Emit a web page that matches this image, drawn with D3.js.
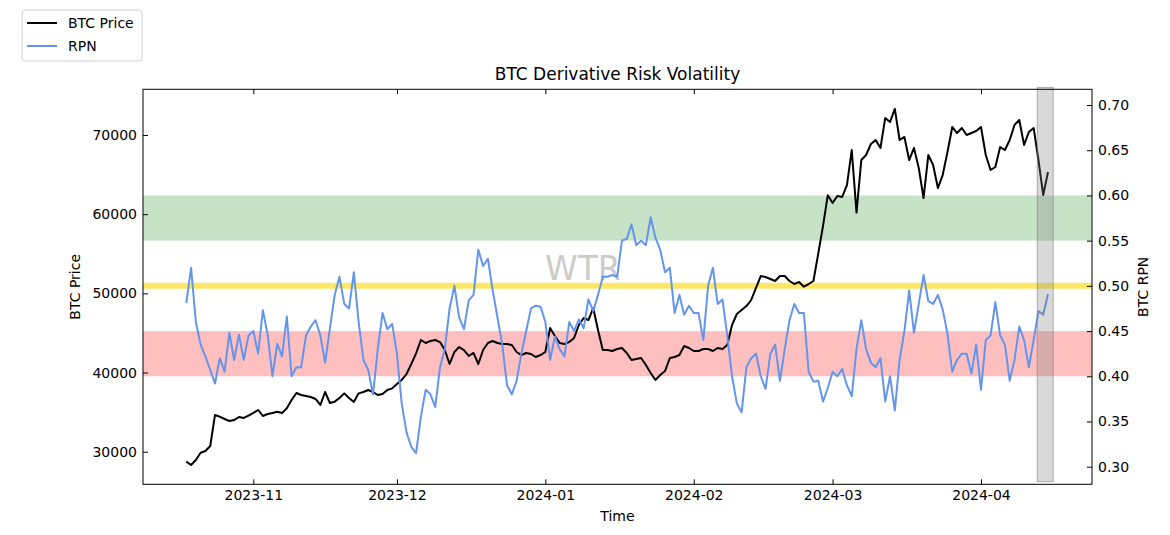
<!DOCTYPE html>
<html>
<head>
<meta charset="utf-8">
<script src="https://cdn.jsdelivr.net/npm/d3@7"></script>
<style>
  body { margin: 0; background: #fff; }
  svg { font-family: "DejaVu Sans", sans-serif; }
</style>
</head>
<body>
<svg width="1170" height="535"></svg>
<script>
// daily samples, 2023-10-18 .. 2024-04-15
const firstDay = '2023-10-18';
const dayAfterLast = '2024-04-16';

const btcPrice = [
  28740, 28320, 28950, 29870, 30090, 30720, 34640, 34420, 34130, 33880,
  34000, 34380, 34260, 34570, 34890, 35270, 34510, 34760, 34890, 35050,
  34890, 35480, 36530, 37410, 37160, 37030, 36910, 36660, 35900, 37540,
  36150, 36320, 36780, 37370, 36780, 36280, 37370, 37540, 37790, 37540,
  37160, 37290, 37790, 38000, 38550, 39060, 39810, 41080, 42430, 44110,
  43730, 43980, 44110, 43850, 42840, 41080, 42590, 43220, 42840, 42090,
  42470, 41080, 42840, 43730, 43980, 43730, 43600, 43600, 43480, 42590,
  42210, 42470, 42340, 41960, 42210, 42590, 45620, 44610, 43730, 43600,
  43850, 44360, 46000, 46890, 46630, 48150, 45370, 42840, 42840, 42720,
  42970, 43100, 42470, 41580, 41710, 41840, 40950, 39940, 39060, 39690,
  40190, 41830, 41960, 42210, 43350, 43100, 42720, 42720, 42970, 42970,
  42720, 43100, 42970, 43480, 46000, 47390, 47900, 48400, 49160, 50680,
  52190, 52070, 51810, 51560, 52190, 52190, 51560, 51180, 51430, 50840,
  51180, 51560, 55000, 58500, 62400, 61410, 62290, 62170, 63680, 68100,
  60200, 66840, 67470, 68860, 69370, 68360, 72150, 71640, 73290, 69370,
  69750, 66840, 68360, 65830, 62040, 67470, 66210, 63300, 64940, 67850,
  71010, 70250, 70880, 70000, 70250, 70500, 71010, 67470, 65580, 65960,
  68480, 68100, 69370, 71270, 71900, 68740, 70380, 70880, 66840, 62420, 65330
];

const rpn = [
  0.481, 0.520, 0.460, 0.435, 0.422, 0.407, 0.392, 0.420, 0.405, 0.448,
  0.418, 0.446, 0.418, 0.445, 0.450, 0.425, 0.473, 0.446, 0.400, 0.436,
  0.422, 0.466, 0.400, 0.410, 0.410, 0.445, 0.455, 0.462, 0.445, 0.415,
  0.453, 0.490, 0.510, 0.480, 0.475, 0.515, 0.460, 0.418, 0.407, 0.380,
  0.430, 0.470, 0.452, 0.458, 0.425, 0.370, 0.338, 0.322, 0.315, 0.355,
  0.385, 0.380, 0.366, 0.410, 0.430, 0.475, 0.500, 0.465, 0.452, 0.484,
  0.490, 0.540, 0.522, 0.530, 0.495, 0.465, 0.435, 0.390, 0.380, 0.395,
  0.425, 0.450, 0.475, 0.478, 0.477, 0.460, 0.418, 0.444, 0.430, 0.422,
  0.460, 0.450, 0.463, 0.453, 0.485, 0.472, 0.490, 0.510, 0.510, 0.512,
  0.510, 0.550, 0.552, 0.568, 0.545, 0.550, 0.545, 0.576, 0.553, 0.540,
  0.515, 0.520, 0.470, 0.490, 0.468, 0.478, 0.470, 0.470, 0.440, 0.500,
  0.520, 0.480, 0.485, 0.445, 0.400, 0.370, 0.360, 0.410, 0.420, 0.425,
  0.400, 0.386, 0.425, 0.435, 0.395, 0.430, 0.462, 0.480, 0.470, 0.470,
  0.405, 0.394, 0.395, 0.372, 0.387, 0.405, 0.400, 0.408, 0.390, 0.378,
  0.430, 0.462, 0.430, 0.415, 0.410, 0.420, 0.372, 0.400, 0.362, 0.418,
  0.450, 0.495, 0.448, 0.480, 0.512, 0.483, 0.480, 0.490, 0.474, 0.447,
  0.405, 0.418, 0.425, 0.425, 0.403, 0.435, 0.385, 0.440, 0.445, 0.482,
  0.445, 0.435, 0.395, 0.418, 0.455, 0.440, 0.410, 0.440, 0.472, 0.468, 0.491
];

const timeLimits = ['2023-10-08T23:00', '2024-04-24T04:30'];
const priceLimits = [25884, 75770];
const rpnLimits = [0.2805, 0.7174];
const priceTicks = [30000, 40000, 50000, 60000, 70000];
const rpnTicks = [0.30, 0.35, 0.40, 0.45, 0.50, 0.55, 0.60, 0.65, 0.70];

const greenZone = [0.55, 0.60];
const redZone = [0.40, 0.45];
const midLevel = 0.50;
const recentWindow = ['2024-04-12T18:00', '2024-04-16T02:00'];
const recentSpan = [0.2835, 0.7195];

// layout
const plotLeft = 143, plotRight = 1092, plotTop = 89.3, plotBottom = 484.3;

const parseDay = d3.utcParse('%Y-%m-%d');
const parseTime = d3.utcParse('%Y-%m-%dT%H:%M');
const days = d3.utcDay.range(parseDay(firstDay), parseDay(dayAfterLast));

const svg = d3.select('svg');

const x = d3.scaleUtc().domain(timeLimits.map(parseTime)).range([plotLeft, plotRight]);
const yPrice = d3.scaleLinear().domain(priceLimits).range([plotBottom, plotTop]);
const yRpn = d3.scaleLinear().domain(rpnLimits).range([plotBottom, plotTop]);

svg.append('defs').append('clipPath').attr('id', 'plot')
  .append('rect')
  .attr('x', plotLeft).attr('y', plotTop)
  .attr('width', plotRight - plotLeft).attr('height', plotBottom - plotTop);

const plot = svg.append('g').attr('clip-path', 'url(#plot)');

// zones on the RPN axis
plot.append('rect')
  .attr('x', plotLeft).attr('width', plotRight - plotLeft)
  .attr('y', yRpn(greenZone[1])).attr('height', yRpn(greenZone[0]) - yRpn(greenZone[1]))
  .attr('fill', 'green').attr('fill-opacity', 0.22);

plot.append('rect')
  .attr('x', plotLeft).attr('width', plotRight - plotLeft)
  .attr('y', yRpn(redZone[1])).attr('height', yRpn(redZone[0]) - yRpn(redZone[1]))
  .attr('fill', 'red').attr('fill-opacity', 0.25);

plot.append('line')
  .attr('x1', plotLeft).attr('x2', plotRight)
  .attr('y1', yRpn(midLevel)).attr('y2', yRpn(midLevel))
  .attr('stroke', 'gold').attr('stroke-opacity', 0.6).attr('stroke-width', 6);

// watermark
plot.append('text')
  .attr('x', 545).attr('y', 280)
  .attr('font-size', 33)
  .attr('fill', '#bdbdbd').attr('fill-opacity', 0.8)
  .text('WTR');

const priceLine = d3.line()
  .x((d, i) => x(days[i]))
  .y(d => yPrice(d));

const rpnLine = d3.line()
  .x((d, i) => x(days[i]))
  .y(d => yRpn(d));

plot.append('path')
  .datum(btcPrice)
  .attr('d', priceLine)
  .attr('fill', 'none')
  .attr('stroke', 'black')
  .attr('stroke-width', 2)
  .attr('stroke-linejoin', 'round');

plot.append('path')
  .datum(rpn)
  .attr('d', rpnLine)
  .attr('fill', 'none')
  .attr('stroke', 'cornflowerblue')
  .attr('stroke-width', 2)
  .attr('stroke-linejoin', 'round');

// shaded recent window (drawn on top, not clipped)
svg.append('rect')
  .attr('x', x(parseTime(recentWindow[0])))
  .attr('width', x(parseTime(recentWindow[1])) - x(parseTime(recentWindow[0])))
  .attr('y', yRpn(recentSpan[1]))
  .attr('height', yRpn(recentSpan[0]) - yRpn(recentSpan[1]))
  .attr('fill', 'gray').attr('fill-opacity', 0.3)
  .attr('stroke', 'gray').attr('stroke-opacity', 0.6);

// axes, ticks pointing inward
const monthTicks = d3.utcMonth.range(x.domain()[0], x.domain()[1]);

svg.append('g')
  .attr('transform', `translate(0,${plotBottom})`)
  .call(d3.axisBottom(x).tickValues(monthTicks)
    .tickFormat(d3.utcFormat('%Y-%m'))
    .tickSizeInner(-5).tickSizeOuter(0).tickPadding(6));

svg.append('g')
  .attr('transform', `translate(0,${plotTop})`)
  .call(d3.axisTop(x).tickValues(monthTicks)
    .tickFormat('').tickSizeInner(-5).tickSizeOuter(0));

svg.append('g')
  .attr('transform', `translate(${plotLeft},0)`)
  .call(d3.axisLeft(yPrice).tickValues(priceTicks)
    .tickFormat(d3.format('d'))
    .tickSizeInner(-5).tickSizeOuter(0).tickPadding(6));

svg.append('g')
  .attr('transform', `translate(${plotRight},0)`)
  .call(d3.axisRight(yRpn).tickValues(rpnTicks)
    .tickFormat(d3.format('.2f'))
    .tickSizeInner(-5).tickSizeOuter(0).tickPadding(6));

svg.selectAll('.domain').remove();
svg.selectAll('.tick text').attr('font-size', 14).attr('fill', 'black')
  .attr('font-family', '"DejaVu Sans", sans-serif');
svg.selectAll('.tick line').attr('stroke', 'black');

// frame
svg.append('rect')
  .attr('x', plotLeft).attr('y', plotTop)
  .attr('width', plotRight - plotLeft).attr('height', plotBottom - plotTop)
  .attr('fill', 'none').attr('stroke', 'black').attr('stroke-width', 1);

// labels
svg.append('text')
  .attr('x', (plotLeft + plotRight) / 2).attr('y', 80)
  .attr('text-anchor', 'middle').attr('font-size', 17)
  .text('BTC Derivative Risk Volatility');

svg.append('text')
  .attr('x', (plotLeft + plotRight) / 2).attr('y', 521)
  .attr('text-anchor', 'middle').attr('font-size', 14)
  .text('Time');

svg.append('text')
  .attr('transform', `translate(80,${(plotTop + plotBottom) / 2}) rotate(-90)`)
  .attr('text-anchor', 'middle').attr('font-size', 14)
  .text('BTC Price');

svg.append('text')
  .attr('transform', `translate(1148,${(plotTop + plotBottom) / 2}) rotate(-90)`)
  .attr('text-anchor', 'middle').attr('font-size', 14)
  .text('BTC RPN');

// legend
const legend = svg.append('g');
legend.append('rect')
  .attr('x', 22).attr('y', 10).attr('width', 120).attr('height', 51)
  .attr('rx', 3).attr('fill', 'white').attr('stroke', '#d0d0d0');

const legendItems = [
  {label: 'BTC Price', color: 'black'},
  {label: 'RPN', color: 'cornflowerblue'}
];
legendItems.forEach((item, i) => {
  const cy = 23 + i * 23;
  legend.append('line')
    .attr('x1', 27).attr('x2', 57).attr('y1', cy).attr('y2', cy)
    .attr('stroke', item.color).attr('stroke-width', 2);
  legend.append('text')
    .attr('x', 68).attr('y', cy + 5).attr('font-size', 14)
    .text(item.label);
});
</script>
</body>
</html>
